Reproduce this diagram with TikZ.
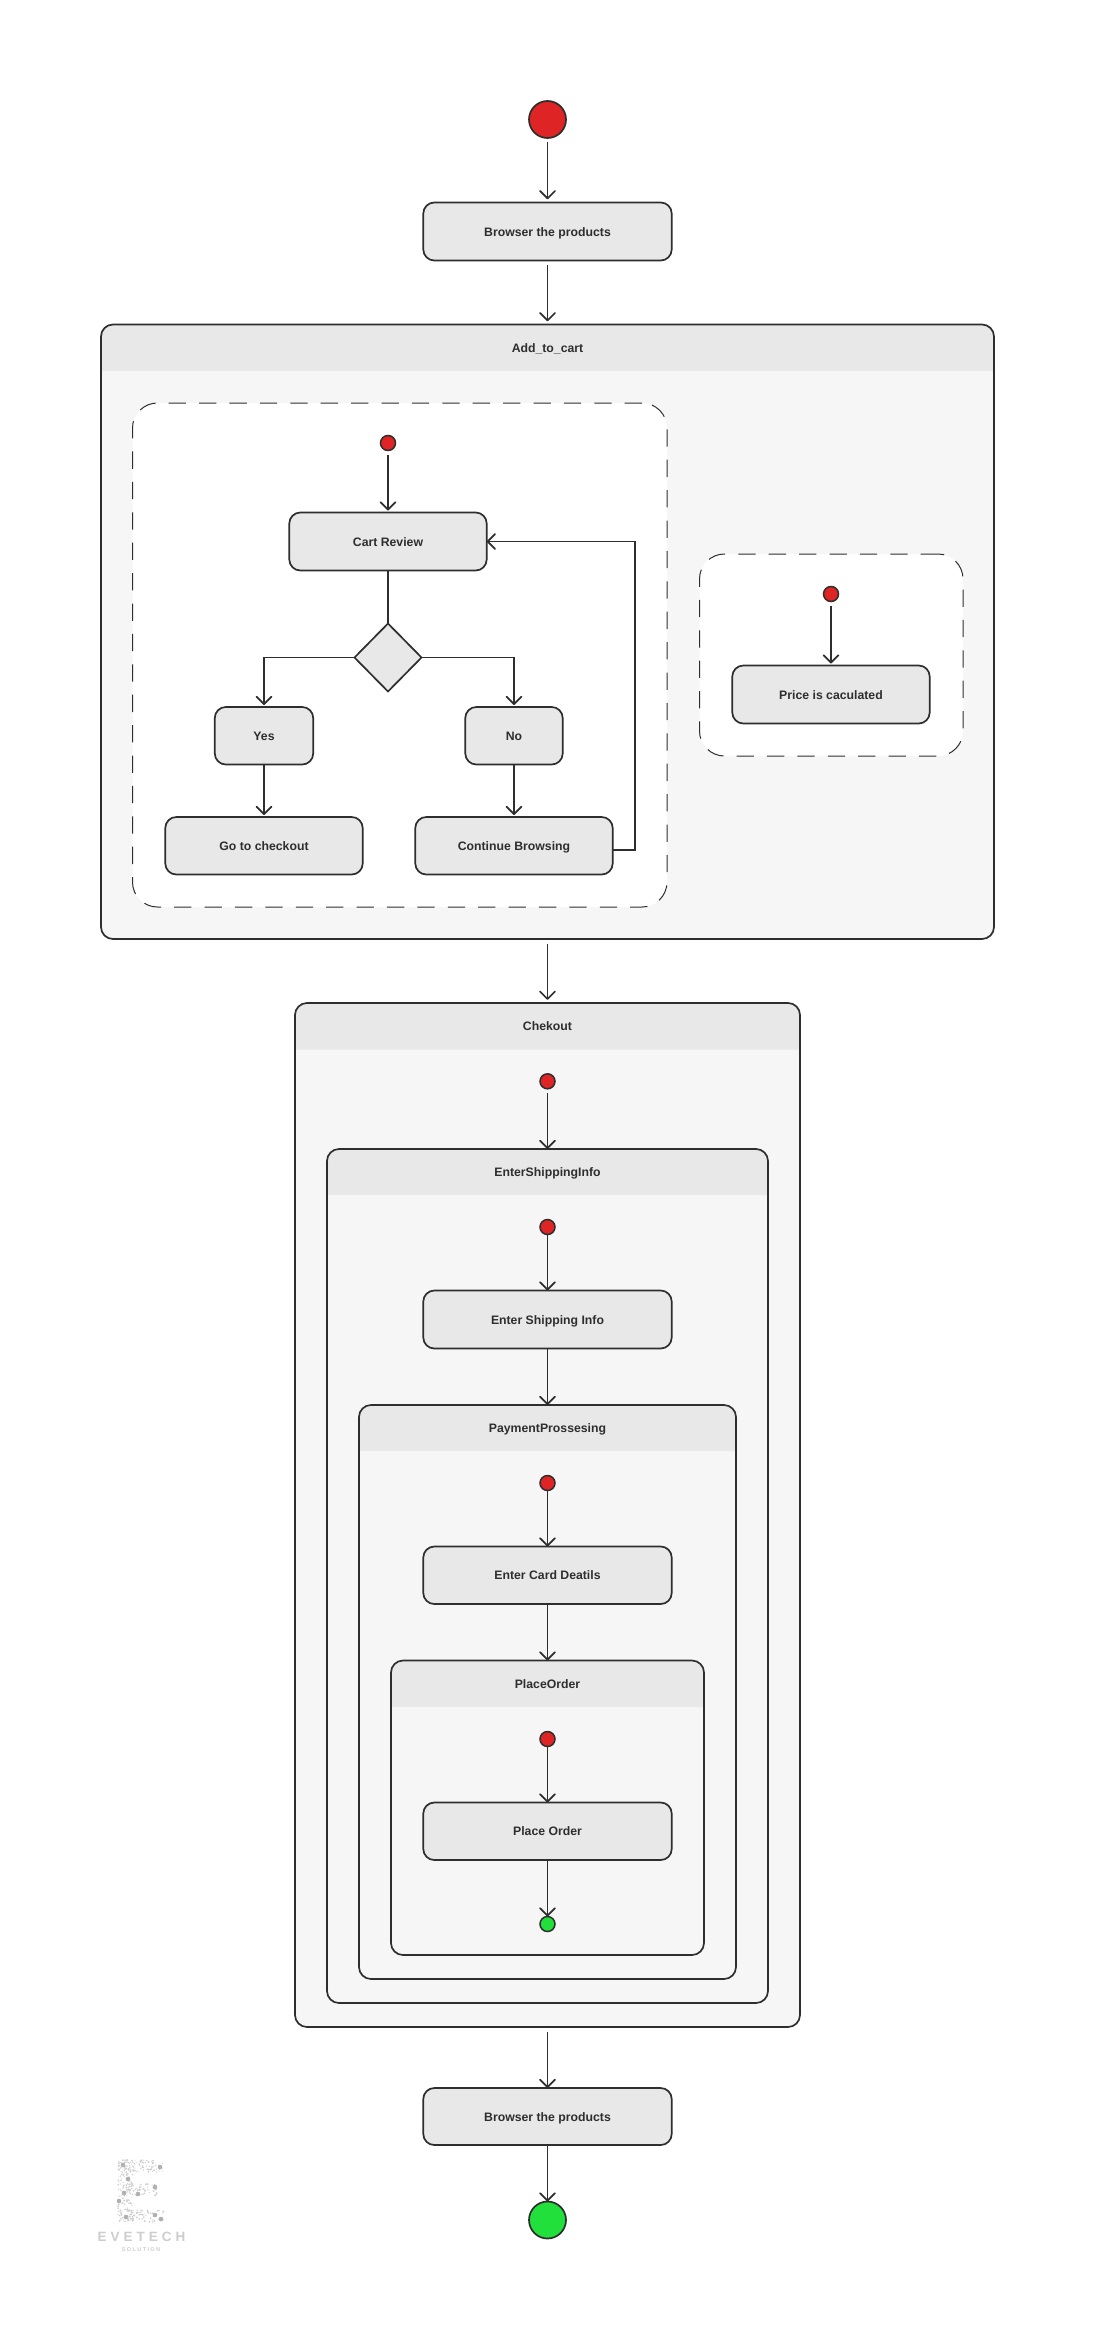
\documentclass[tikz,border=0pt]{standalone}
\usepackage{fontspec}
\setmainfont{Liberation Sans}
\newfontfamily\logofontA[LetterSpace=30]{Liberation Sans}
\newfontfamily\logofontB[LetterSpace=24]{Liberation Sans}
\usetikzlibrary{arrows.meta,shapes.geometric,calc}
\definecolor{ink}{HTML}{2E2E2E}
\definecolor{hdrgray}{HTML}{E8E8E8}
\definecolor{bodygray}{HTML}{F6F6F6}
\definecolor{startred}{HTML}{DE2424}
\definecolor{endgreen}{HTML}{22E03C}
\definecolor{logogray}{HTML}{CDCDCD}
\definecolor{logodark}{HTML}{B0B0B0}
\tikzset{
  x=1bp,y=-1bp,
  every node/.style={outer sep=0pt,inner sep=0pt},
  lbl/.style={font=\bfseries\fontsize{12.3}{14}\selectfont,text=ink,text height=12bp,text depth=3bp},
  statebox/.style={lbl,draw=ink,fill=hdrgray,line width=1.7bp,rounded corners=11bp,anchor=center},
  bigdot/.style={circle,draw=ink,line width=1.7bp,minimum size=37bp},
  smalldot/.style={circle,draw=ink,line width=1.5bp,minimum size=15bp},
  flow/.style={draw=ink,line width=1.7bp,-{Straight Barb[length=7.5bp,width=15bp,line width=1.7bp,round]}},
  plain/.style={draw=ink,line width=1.7bp},
  gap/.style={shorten <=4.5bp,shorten >=3.2bp},
  srcgap/.style={shorten <=4.5bp},
  dashbox/.style={draw=ink,fill=white,line width=1bp,rounded corners=25bp,dash pattern=on 17.3bp off 13.1bp},
  frameline/.style={draw=ink,line width=1.7bp,rounded corners=12bp},
}
% \frameBox{name}{x1}{y1}{x2}{y2}{header bottom}{label}
\newcommand{\frameBox}[7]{%
  \fill[bodygray,rounded corners=12bp] (#2,#3) rectangle (#4,#5);
  \fill[hdrgray] (#2,#6) [rounded corners=12bp] -- (#2,#3) -- (#4,#3) [sharp corners] -- (#4,#6) -- cycle;
  \node[frameline,anchor=center,minimum width={(#4-#2)*1bp},minimum height={(#5-#3)*1bp}] (#1) at ({(#2+#4)/2},{(#3+#5)/2}) {};
  \node[lbl] (#1-label) at ({(#2+#4)/2},{(#3+#6)/2}) {#7};
}
% \stateNode{name}{x1}{y1}{x2}{y2}{label}
\newcommand{\stateNode}[6]{%
  \node[statebox,minimum width={(#4-#2-0.6)*1bp},minimum height={(#5-#3-1)*1bp}] (#1) at ({(#2+#4)/2},{(#3+#5)/2}) {#6};
}
\newcommand{\dashNode}[5]{%
  \node[dashbox,anchor=center,minimum width={(#4-#2)*1bp},minimum height={(#5-#3)*1bp}] (#1) at ({(#2+#4)/2},{(#3+#5)/2}) {};
}
\begin{document}
\begin{tikzpicture}
\useasboundingbox (0,0) rectangle (1095,2340);
\fill[white] (0,0) rectangle (1095,2340);

% top
\node[bigdot,fill=startred] (start) at (547.5,119.5) {};
\stateNode{browseA}{423}{202}{672}{261}{Browser the products}

% Add_to_cart
\frameBox{add}{101}{324.5}{994}{939}{371}{Add\_to\_cart}
\dashNode{dashL}{132.5}{403}{667}{907}
\dashNode{dashR}{699.5}{554}{963}{756}
\node[smalldot,fill=startred] (redL) at (388,443) {};
\stateNode{cart}{289}{512}{487}{571}{Cart Review}
\node[diamond,draw=ink,fill=hdrgray,line width=1.7bp,minimum width=67bp,minimum height=68bp,aspect=1] (choice) at (388,657.5) {};
\stateNode{yes}{214.5}{706.5}{313.5}{765}{Yes}
\stateNode{no}{465}{706.5}{563}{765}{No}
\stateNode{goto}{165}{816.5}{363}{875}{Go to checkout}
\stateNode{cont}{415}{816.5}{613}{875}{Continue Browsing}
\node[smalldot,fill=startred] (redR) at (831,594) {};
\stateNode{price}{732}{665}{930}{724}{Price is caculated}

% Chekout
\frameBox{chk}{295}{1003}{800}{2027}{1049.5}{Chekout}
\node[smalldot,fill=startred] (redC) at (547.5,1081.3) {};
\frameBox{esi}{327}{1149}{768}{2003}{1195}{EnterShippingInfo}
\node[smalldot,fill=startred] (redE) at (547.5,1227) {};
\stateNode{ship}{423}{1290}{672}{1349}{Enter Shipping Info}
\frameBox{pay}{359}{1405}{736}{1979}{1451}{PaymentProssesing}
\node[smalldot,fill=startred] (redP) at (547.5,1483) {};
\stateNode{card}{423}{1546}{672}{1604.5}{Enter Card Deatils}
\frameBox{place}{391}{1660.5}{704}{1955}{1707}{PlaceOrder}
\node[smalldot,fill=startred] (redO) at (547.5,1739) {};
\stateNode{order}{423}{1802}{672}{1860.5}{Place Order}
\node[smalldot,fill=endgreen] (greenO) at (547.5,1924) {};

% bottom
\stateNode{browseB}{423}{2087.5}{672}{2145.5}{Browser the products}
\node[bigdot,fill=endgreen] (finish) at (547.5,2220) {};

% connectors
\draw[flow,gap] (start.south) -- (browseA.north);
\draw[flow,gap] (browseA.south) -- (add.north);
\draw[flow,gap] (add.south) -- (chk.north);
\draw[flow,shorten <=4bp,shorten >=2bp] (redL.south) -- (cart.north);
\draw[plain] (cart.south) -- (choice.north);
\draw[flow,shorten >=2bp] (choice.west) -| (yes.north);
\draw[flow,shorten >=2bp] (choice.east) -| (no.north);
\draw[flow,shorten >=2bp] (yes.south) -- (goto.north);
\draw[flow,shorten >=2bp] (no.south) -- (cont.north);
\draw[flow] ([yshift=-4bp]cont.east) -- ++(22,0) |- (cart.east);
\draw[flow,shorten <=4bp,shorten >=2bp] (redR.south) -- (price.north);
\draw[flow,srcgap] (redC.south) -- (esi.north);
\draw[flow] (redE.south) -- (ship.north);
\draw[flow] (ship.south) -- (pay.north);
\draw[flow] (redP.south) -- (card.north);
\draw[flow] (card.south) -- (place.north);
\draw[flow] (redO.south) -- (order.north);
\draw[flow] (order.south) -- (greenO.north);
\draw[flow,srcgap] (chk.south) -- (browseB.north);
\draw[flow] (browseB.south) -- (finish.north);

% logo
\pgfmathsetseed{11}
\begin{scope}[logogray]
\foreach \ax/\ay/\bw/\bh/\cnt in {118/2160/15/62/110,118/2160/45/12/90,122/2184/35/12/60,118/2210/47/12/90}{
  \foreach \i in {1,...,\cnt}{
    \pgfmathsetmacro{\px}{\ax+rnd*\bw}
    \pgfmathsetmacro{\py}{\ay+rnd*\bh}
    \pgfmathsetmacro{\pr}{0.4+rnd*0.7}
    \fill (\px,\py) circle[radius=\pr];
  }
}
\foreach \px/\py in {123/2165,160/2167,128/2179,124/2193,138/2194,155/2187,119/2201,126/2217,155/2215,161/2219}{
  \fill[logodark] (\px,\py) circle[radius=2.3];
}
\end{scope}
\node[text=logogray,font=\logofontA\bfseries\fontsize{13.5}{15}\selectfont] (logoA) at (141.5,2237) {EVETECH};
\node[text=logogray,font=\logofontB\bfseries\fontsize{5.6}{8}\selectfont] (logoB) at (141,2249.5) {SOLUTION};
\end{tikzpicture}
\end{document}
